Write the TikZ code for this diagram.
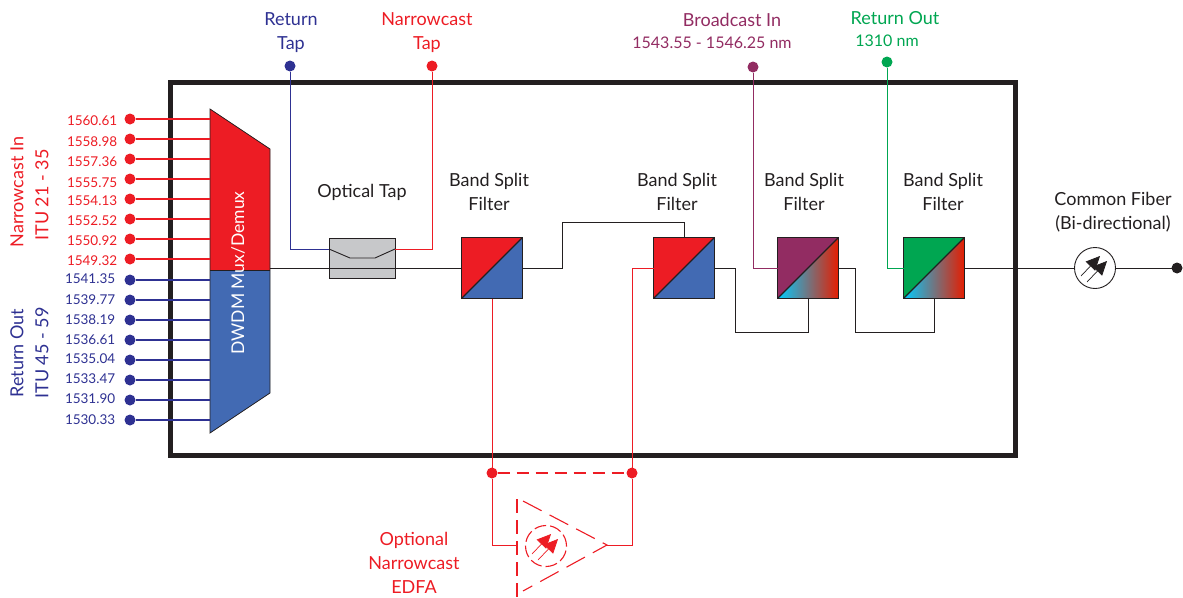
\documentclass[tikz,border=0pt]{standalone}
\usepackage{fontspec}
\setmainfont{Lato}
\usetikzlibrary{positioning, arrows.meta}
\definecolor{nred}{HTML}{ED1C24}
\definecolor{rblue}{HTML}{2E3192}
\definecolor{mblue}{HTML}{426AB3}
\definecolor{bpurple}{HTML}{922C62}
\definecolor{rgreen}{HTML}{00A651}
\definecolor{tapgray}{HTML}{C7C8CA}
\definecolor{ink}{HTML}{231F20}
\tikzset{every node/.style={inner sep=0pt, outer sep=0pt},
    txt/.style={font=\fontsize{18}{24}\selectfont, align=center, text=ink},
    num/.style={font=\fontsize{13.5}{16}\selectfont, anchor=west},
    wire/.style={line width=1pt, ink},
    dot/.style={circle, fill, minimum size=11pt},
    filter/.style={draw=ink, line width=1.2pt, minimum size=61pt},
    split/.style n args={2}{filter, path picture={
        \fill[#1] (path picture bounding box.north west) -- (path picture bounding box.north east)
            -- (path picture bounding box.south west) -- cycle;
        \fill[#2] (path picture bounding box.north east) -- (path picture bounding box.south east)
            -- (path picture bounding box.south west) -- cycle;
        \draw[ink, line width=1.2pt] (path picture bounding box.north east) -- (path picture bounding box.south west);}},
    fade/.style={filter, path picture={
        \fill[#1] (path picture bounding box.north west) -- (path picture bounding box.north east)
            -- (path picture bounding box.south west) -- cycle;
        \shade[left color=cyan!80!blue, middle color=gray!90!red, right color=red!75!orange!90!black]
            (path picture bounding box.north east) -- (path picture bounding box.south east)
            -- (path picture bounding box.south west) -- cycle;
        \draw[ink, line width=1.2pt] (path picture bounding box.north east) -- (path picture bounding box.south west);}},
    diode/.pic={
        \draw[line width=0.7pt, -{Triangle[length=14pt, width=13pt]}] (-14,8) -- (5,-12);
        \draw[line width=0.7pt, -{Triangle[length=14pt, width=13pt]}] (-8,14) -- (12,-7);}
}

\begin{document}
\begin{tikzpicture}[x=1pt, y=-1pt]
    \useasboundingbox (0,0) rectangle (1183,597);

    % Enclosure
    \draw[ink, line width=5pt] (170,82) rectangle (1015,455);

    % Mux
    \fill[nred] (210,109) -- (270,149) -- (270,270) -- (210,270) -- cycle;
    \fill[mblue] (210,270) -- (270,270) -- (270,393) -- (210,433) -- cycle;
    \draw[ink, line width=0.8pt] (210,109) -- (270,149) -- (270,393) -- (210,433) -- cycle;
    \draw[ink, line width=0.8pt] (210,270) -- (270,270);
    \node[txt, text=white, rotate=90, font=\fontsize{17.5}{24}\selectfont] (mux) at (238,273) {DWDM Mux/Demux};
    \coordinate (muxout) at (270,268);

    % Channels
    \foreach \i/\y/\ly/\lab in {1/119/121/1560.61, 2/139/142/1558.98, 3/159/162/1557.36, 4/179/183/1555.75,
        5/199/201/1554.13, 6/219/221/1552.52, 7/239/241/1550.92, 8/259/261/1549.32} {
        \node[dot, nred] (n\i) at (130,\y) {};
        \coordinate (m\i) at (210,\y);
        \draw[nred, line width=1.1pt] (n\i) -- (m\i);
        \node[num, text=nred] (nl\i) at (67,\ly) {\lab};
    }
    \foreach \i/\y/\ly/\lab in {1/280/279/1541.35, 2/300/300/1539.77, 3/320/320/1538.19, 4/340/340/1536.61,
        5/360/359/1535.04, 6/380/379/1533.47, 7/400/399/1531.90, 8/420/420/1530.33} {
        \node[dot, rblue] (r\i) at (130,\y) {};
        \coordinate (s\i) at (210,\y);
        \draw[rblue, line width=1.1pt] (r\i) -- (s\i);
        \node[num, text=rblue] (rl\i) at (65,\ly) {\lab};
    }
    \node[txt, text=nred, rotate=90] (nin) at (17,192) {Narrowcast In};
    \node[txt, text=nred, rotate=90] (nitu) at (42,195) {ITU 21 - 35};
    \node[txt, text=rblue, rotate=90] (rout) at (17,353) {Return Out};
    \node[txt, text=rblue, rotate=90] (ritu) at (42,353) {ITU 45 - 59};

    % Tap
    \node[draw=ink, fill=tapgray, line width=0.9pt, minimum width=66pt, minimum height=40pt] (tap) at (362,258) {};
    \node[txt] (taplabel) [above=37pt of tap] {Optical Tap};
    \draw[ink, line width=0.9pt] (329,249) -- (350,258) -- (375,258) -- (395,249);
    \coordinate (tapin) at (329,249);
    \coordinate (tapout) at (395,249);

    % Filters
    \node[split={nred}{mblue}] (f1) at (492,268) {};
    \node[split={nred}{mblue}] (f2) [right=131pt of f1] {};
    \node[fade=bpurple] (f3) [right=63pt of f2] {};
    \node[fade=rgreen] (f4) [right=65pt of f3] {};
    \node[txt] (fl1) [above=27pt of f1, xshift=-3pt] {Band Split\\Filter};
    \node[txt] (fl2) [above=27pt of f2, xshift=-7pt] {Band Split\\Filter};
    \node[txt] (fl3) [above=27pt of f3, xshift=-4pt] {Band Split\\Filter};
    \node[txt] (fl4) [above=27pt of f4, xshift=9pt] {Band Split\\Filter};

    % Common port
    \node[circle, draw=ink, fill=white, line width=0.9pt, minimum size=41pt] (port) at (1095,268) {};
    \pic[ink] at (port) {diode};
    \node[dot, ink] (common) at (1177,268) {};
    \node[txt] (portlabel) at (1113,212) {Common Fiber\\(Bi-directional)};

    % Top ports
    \node[dot, rblue] (rtap) at (290,66) {};
    \node[dot, nred] (ntap) at (432,66) {};
    \node[dot, bpurple] (bin) at (753,67) {};
    \node[dot, rgreen] (gout) at (887,62) {};
    \node[txt, text=rblue] (rtl) at (291,33) {Return\\Tap};
    \node[txt, text=nred] (ntl) at (427,33) {Narrowcast\\Tap};
    \node[txt, text=bpurple] (bl1) at (732,20) {Broadcast In};
    \node[txt, text=bpurple, font=\fontsize{16}{24}\selectfont] (bl2) at (712,43) {1543.55 - 1546.25 nm};
    \node[txt, text=rgreen] (gl1) at (895,18) {Return Out};
    \node[txt, text=rgreen, font=\fontsize{16}{24}\selectfont] (gl2) at (887,41) {1310 nm};

    % Fibers
    \coordinate (c1) at (562,222);
    \coordinate (c2) at (735,332);
    \coordinate (c3) at (855,332);
    \draw[wire] (muxout) -- (f1.west);
    \draw[wire] (f1.east) -| (c1) -| (f2.north);
    \draw[wire] (f2.east) -| (c2) -| (f3.south);
    \draw[wire] (f3.east) -| (c3) -| (f4.south);
    \draw[wire] (f4.east) -- (port);
    \draw[wire] (port) -- (common);
    \draw[rblue, line width=1pt] (rtap) |- (tapin);
    \draw[nred, line width=1pt] (ntap) |- (tapout);
    \draw[bpurple, line width=1pt] (bin) |- (f3.west);
    \draw[rgreen, line width=1pt] (gout) |- (f4.west);

    % EDFA
    \node[dot, nred] (d1) at (492,473) {};
    \node[dot, nred] (d2) at (632,473) {};
    \coordinate (ampin) at (517,545);
    \coordinate (ampout) at (607,545);
    \draw[nred, line width=1pt] (f1.south) -- (d1);
    \draw[nred, line width=1pt] (f2.west) -| (d2);
    \draw[nred, line width=1pt] (d1) |- (ampin);
    \draw[nred, line width=1pt] (d2) |- (ampout);
    \draw[nred, line width=1.1pt, dash pattern=on 12pt off 7pt] (d1) -- (d2);
    \draw[nred, line width=1.1pt, dash pattern=on 14pt off 7pt] (517,499) -- (517,597);
    \draw[nred, line width=1.1pt, dash pattern=on 21pt off 9pt] (523,501) -- (ampout) -- (523,591);
    \node[circle, draw=nred, line width=1.1pt, dash pattern=on 12pt off 4pt, minimum size=41pt] (pump) at (546,546) {};
    \pic[nred] at (pump) {diode};
    \node[txt, text=nred] (edfa) at (414,563) {Optional\\Narrowcast\\EDFA};
\end{tikzpicture}
\end{document}
